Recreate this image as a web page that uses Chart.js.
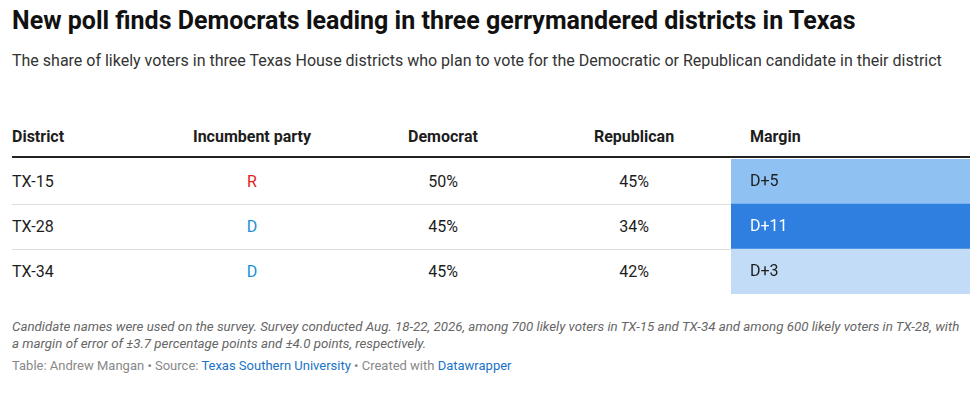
<!DOCTYPE html>
<html><head><meta charset="utf-8">
<script src="https://cdn.jsdelivr.net/npm/chart.js@4"></script>
<style>
body{margin:0;width:980px;height:404px;background:#fff;font-family:Roboto,sans-serif;color:#1d1d1d;position:relative;overflow:hidden}
.a{position:absolute;white-space:nowrap}
h1{position:absolute;left:12px;top:6px;margin:0;font-size:25px;font-weight:700;color:#111}
.sub{left:12px;top:50px;font-size:16px;color:#333;white-space:normal;width:950px;line-height:22px}
.hd{top:127px;font-size:16px;font-weight:700}
.c{font-size:16px}
.ctr{transform:translateX(-50%)}
.line{position:absolute;left:12px;width:958px}
.foot{left:12px;top:318px;font-size:13.3px;font-style:italic;color:#666;white-space:normal;width:955px;line-height:17px}
.src{left:12px;top:358px;font-size:13px;color:#888}
.src a{color:#1a73c8;text-decoration:none}
</style></head><body>
<h1>New poll finds Democrats leading in three gerrymandered districts in Texas</h1>
<div class="a sub">The share of likely voters in three Texas House districts who plan to vote for the Democratic or Republican candidate in their district</div>
<div id="tbl"></div>
<div class="a" style="left:731px;top:159px;width:239px;height:135px"><canvas id="c"></canvas></div>
<div class="a foot">Candidate names were used on the survey. Survey conducted Aug. 18-22, 2026, among 700 likely voters in TX-15 and TX-34 and among 600 likely voters in TX-28, with a margin of error of ±3.7 percentage points and ±4.0 points, respectively.</div>
<div class="a src">Table: Andrew Mangan • Source: <a>Texas Southern University</a> • Created with <a>Datawrapper</a></div>
<script>
const districts=["TX-15","TX-28","TX-34"];
const incumbent=["R","D","D"];
const democrat=[50,45,45];
const republican=[45,34,42];
const margins=[5,11,3];
const headers=["District","Incumbent party","Democrat","Republican","Margin"];

const t=document.getElementById('tbl');
let h='';
const hx=[[12,0],[252,1],[443,1],[634,1],[750,0]];
headers.forEach((s,i)=>{h+=`<div class="a hd ${hx[i][1]?'ctr':''}" style="left:${hx[i][0]}px">${s}</div>`;});
h+=`<div class="line" style="top:156px;height:2px;background:#222"></div>`;
const rowTop=159,rowH=45;
districts.forEach((d,i)=>{
 const y=rowTop+i*rowH+13;
 h+=`<div class="a c" style="left:12px;top:${y}px">${d}</div>`;
 h+=`<div class="a c ctr" style="left:252px;top:${y}px;color:${incumbent[i]==='R'?'#e3221b':'#1b8fd8'}">${incumbent[i]}</div>`;
 h+=`<div class="a c ctr" style="left:443px;top:${y}px">${democrat[i]}%</div>`;
 h+=`<div class="a c ctr" style="left:634px;top:${y}px">${republican[i]}%</div>`;
 if(i<districts.length-1) h+=`<div class="line" style="top:${rowTop+(i+1)*rowH}px;height:1px;width:719px;background:#ddd"></div>`;
});
t.innerHTML=h;

function col(m){return m>=10?'#2e7fe0':m>=5?'#8fc1f2':'#c2dcf7';}
new Chart(document.getElementById('c'),{
 type:'bar',
 data:{labels:districts,datasets:[{data:margins.map(()=>[0,1]),backgroundColor:margins.map(col),borderWidth:0,categoryPercentage:1,barPercentage:1}]},
 options:{indexAxis:'y',responsive:true,maintainAspectRatio:false,animation:false,
  layout:{padding:0},
  plugins:{legend:{display:false},tooltip:{enabled:false}},
  scales:{x:{display:false,min:0,max:1},y:{display:false}}},
 plugins:[{id:'lbl',afterDatasetsDraw(ch){
  const ctx=ch.ctx,meta=ch.getDatasetMeta(0);
  ctx.save();ctx.font='16px Roboto';ctx.textBaseline='middle';
  meta.data.forEach((b,i)=>{ctx.fillStyle=margins[i]>=10?'#fff':'#1d1d1d';ctx.fillText('D+'+margins[i],19,b.y);});
  ctx.restore();}}]
});
</script>
</body></html>
